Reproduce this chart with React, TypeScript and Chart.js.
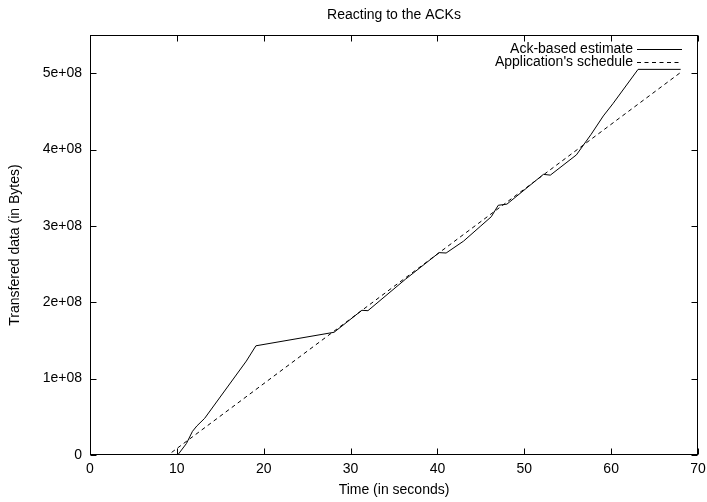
import { useEffect, useRef } from 'react';
import { Chart, registerables } from 'chart.js';

Chart.register(...registerables);

const chartTitle = 'Reacting to the ACKs';
const xAxisTitle = 'Time (in seconds)';
const yAxisTitle = 'Transfered data (in Bytes)';

const xTicks = [0, 10, 20, 30, 40, 50, 60, 70];
const yTicks = [0, 1e8, 2e8, 3e8, 4e8, 5e8];
const yTickLabels = ['0', '1e+08', '2e+08', '3e+08', '4e+08', '5e+08'];

const ackLabel = 'Ack-based estimate';
const ackTimes = [0, 10.1, 11.1, 11.8, 12.3, 13.2, 18.0, 19.1, 28.1, 31.3, 32.0, 36.3, 40.2, 41.0, 43.0, 45.0, 46.2, 47.0, 48.0, 52.2, 53.0, 56.0, 57.7, 59.1, 60.2, 63.1, 68.0];
const ackBytes = [0, 0, 0.15e8, 0.31e8, 0.38e8, 0.48e8, 1.23e8, 1.43e8, 1.607e8, 1.895e8, 1.89e8, 2.3e8, 2.65e8, 2.645e8, 2.8e8, 3.0e8, 3.12e8, 3.27e8, 3.285e8, 3.675e8, 3.665e8, 3.93e8, 4.2e8, 4.44e8, 4.6e8, 5.05e8, 5.05e8];

const scheduleLabel = "Application's schedule";
const scheduleTimes = [0, 9.0, 68.0];
const scheduleBytes = [0, 0, 5.01e8];

const FONT = "'Liberation Sans', Arial, Helvetica, sans-serif";

const framePlugin = {
  id: 'gnuFrame',
  afterDraw(chart: any) {
    const { ctx, chartArea } = chart;
    const { left, right, top, bottom } = chartArea;
    const xs = chart.scales.x;
    const ys = chart.scales.y;
    ctx.save();
    ctx.strokeStyle = '#000';
    ctx.lineWidth = 1;
    const L = Math.round(left) + 0.5;
    const R = Math.round(right) - 0.5;
    const T = Math.round(top) + 0.5;
    const B = Math.round(bottom) - 0.5;
    ctx.strokeRect(L, T, R - L, B - T);
    const tl = 6;
    ctx.beginPath();
    for (const v of xTicks) {
      const px = Math.round(xs.getPixelForValue(v)) + 0.5;
      ctx.moveTo(px, B);
      ctx.lineTo(px, B - tl);
      ctx.moveTo(px, T);
      ctx.lineTo(px, T + tl);
    }
    for (const v of yTicks) {
      const py = Math.round(ys.getPixelForValue(v)) + 0.5;
      ctx.moveTo(L, py);
      ctx.lineTo(L + tl, py);
      ctx.moveTo(R, py);
      ctx.lineTo(R - tl, py);
    }
    ctx.stroke();

    // title
    ctx.fillStyle = '#000';
    ctx.font = `14px ${FONT}`;
    ctx.textAlign = 'center';
    ctx.textBaseline = 'middle';
    ctx.fillText(chartTitle, (left + right) / 2, 15);

    // legend
    ctx.textAlign = 'right';
    chart.data.datasets.forEach((ds: any, i: number) => {
      const yy = Math.round(top + 14 + i * 12.7) + 0.5;
      ctx.fillText(ds.label, right - 65, yy);
      ctx.beginPath();
      ctx.setLineDash(ds.borderDash || []);
      ctx.moveTo(right - 61, yy);
      ctx.lineTo(right - 16, yy);
      ctx.stroke();
    });
    ctx.setLineDash([]);
    ctx.restore();
  },
};

export default function App() {
  const ref = useRef<HTMLCanvasElement | null>(null);

  useEffect(() => {
    document.body.style.margin = '0';
    const canvas = ref.current;
    if (!canvas) return;
    Chart.defaults.color = '#000';
    const chart = new Chart(canvas, {
      type: 'scatter',
      data: {
        datasets: [
          {
            label: ackLabel,
            data: ackTimes.map((t, i) => ({ x: t, y: ackBytes[i] })),
            showLine: true,
            borderColor: '#000',
            backgroundColor: '#000',
            borderWidth: 1,
            pointRadius: 0,
            tension: 0,
            fill: false,
          },
          {
            label: scheduleLabel,
            data: scheduleTimes.map((t, i) => ({ x: t, y: scheduleBytes[i] })),
            showLine: true,
            borderColor: '#000',
            backgroundColor: '#000',
            borderWidth: 1,
            borderDash: [4, 3.5],
            pointRadius: 0,
            tension: 0,
            fill: false,
          },
        ],
      },
      options: {
        animation: false,
        responsive: false,
        maintainAspectRatio: false,
        layout: { padding: { top: 35, right: 9, left: 0, bottom: 0 } },
        plugins: {
          legend: { display: false },
          tooltip: { enabled: false },
          title: { display: false },
        },
        scales: {
          x: {
            type: 'linear',
            min: 0,
            max: 70,
            afterBuildTicks: (s: any) => {
              s.ticks = xTicks.map((v) => ({ value: v }));
            },
            afterFit: (s: any) => {
              s.height = 47;
              s.paddingLeft = 0;
              s.paddingRight = 0;
            },
            grid: { display: false, drawTicks: false },
            border: { display: false },
            ticks: {
              font: { family: FONT, size: 14 },
              color: '#000',
              padding: 6,
              maxRotation: 0,
              autoSkip: false,
            },
            title: {
              display: true,
              text: xAxisTitle,
              font: { family: FONT, size: 14 },
              color: '#000',
              padding: { top: 0, bottom: 3 },
            },
          },
          y: {
            type: 'linear',
            min: 0,
            max: 5.5e8,
            afterBuildTicks: (s: any) => {
              s.ticks = yTicks.map((v) => ({ value: v }));
            },
            afterFit: (s: any) => {
              s.width = 90;
              s.paddingTop = 0;
              s.paddingBottom = 0;
            },
            grid: { display: false, drawTicks: false },
            border: { display: false },
            ticks: {
              font: { family: FONT, size: 14 },
              color: '#000',
              padding: 8,
              autoSkip: false,
              callback: (v: any) => {
                const idx = yTicks.indexOf(Number(v));
                return idx >= 0 ? yTickLabels[idx] : '';
              },
            },
            title: {
              display: true,
              text: yAxisTitle,
              font: { family: FONT, size: 14 },
              color: '#000',
              padding: { top: 7, bottom: 0 },
            },
          },
        },
      },
      plugins: [framePlugin],
    } as any);
    return () => chart.destroy();
  }, []);

  return <canvas ref={ref} width={707} height={502} style={{ display: 'block' }} />;
}
